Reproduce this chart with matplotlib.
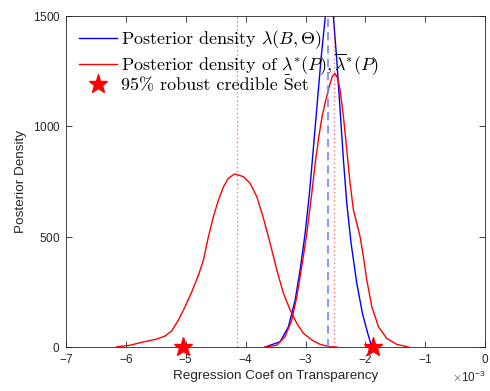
import matplotlib
matplotlib.use('Agg')
import matplotlib.pyplot as plt
import numpy as np

# Posterior density of the lower/upper bounds (left mode, red), x in 1e-3 units
x_red_left = [-6.153, -5.931, -5.709, -5.485, -5.346, -5.234, -5.124, -5.012, -4.900,
              -4.789, -4.706, -4.623, -4.539, -4.456, -4.372, -4.289, -4.193, -4.177,
              -4.038, -3.926, -3.814, -3.703, -3.592, -3.480, -3.369, -3.258, -3.146,
              -3.035, -2.896, -2.757, -2.590, -2.478]
y_red_left = [1, 8, 23, 36, 50, 74, 122, 183, 251,
              326, 394, 500, 591, 666, 726, 765, 783, 784,
              772, 742, 681, 583, 470, 349, 243, 168, 107,
              62, 32, 12, 1, 0]

# Posterior density of the lower/upper bounds (right mode, red)
x_red_right = [-3.676, -3.480, -3.342, -3.230, -3.146, -3.063, -2.979, -2.896, -2.840,
               -2.780, -2.720, -2.670, -2.590, -2.550, -2.506, -2.460, -2.423, -2.367,
               -2.311, -2.256, -2.200, -2.144, -2.089, -2.033, -1.977, -1.893, -1.782,
               -1.643, -1.476, -1.282]
y_red_right = [0, 8, 47, 122, 228, 364, 515, 696, 830,
               950, 1050, 1110, 1195, 1228, 1240, 1215, 1165, 1044,
               893, 742, 621, 561, 500, 409, 304, 183, 92,
               39, 12, 0]

# Posterior density of lambda(B, Theta) (blue)
x_blue = [-3.676, -3.425, -3.286, -3.174, -3.091, -3.007, -2.935, -2.879, -2.800,
          -2.740, -2.670, -2.600, -2.535, -2.478, -2.423, -2.367, -2.311, -2.239,
          -2.144, -2.050, -1.961, -1.894]
y_blue = [0, 24, 92, 213, 349, 515, 696, 870, 1120,
          1310, 1497, 1650, 1497, 1301, 1074, 847, 651, 470,
          289, 153, 62, 1]

# posterior modes and robust credible set bounds
red_vlines = [-4.15, -2.53]
blue_vline = -2.63
credible_set = [-5.04, -1.87]

scale = 1e-3

plt.rcParams['font.family'] = 'Liberation Sans'
plt.rcParams['mathtext.fontset'] = 'cm'
plt.rcParams['axes.unicode_minus'] = False
plt.rcParams['axes.formatter.use_mathtext'] = True

fig = plt.figure(figsize=(4.9, 3.91), dpi=100)
ax = fig.add_axes([0.135, 0.1125, 0.855, 0.8465])

ax.plot(np.array(x_blue) * scale, y_blue, color='blue', lw=1.0,
        label=r'Posterior density $\lambda(B,\Theta)$')
ax.plot(np.array(x_red_left) * scale, y_red_left, color='red', lw=1.0,
        label=r'Posterior density of $\underset{\_}{\lambda}^{*}(P),\overline{\lambda}^{*}(P)$')
ax.plot(np.array(x_red_right) * scale, y_red_right, color='red', lw=1.0)

for v in red_vlines:
    ax.axvline(v * scale, color='red', alpha=0.55, lw=1.0, ls=(0, (1, 2)))
ax.axvline(blue_vline * scale, color='#8080ff', lw=1.2, ls=(0, (5, 3)))

ax.plot(np.array(credible_set) * scale, [0, 0], ls='none', marker='*', ms=14,
        color='red', mec='red', clip_on=False, zorder=5,
        label=r'95% robust credible Set')

ax.set_xlim(-7e-3, 0)
ax.set_ylim(0, 1500)
ax.set_xticks(np.arange(-7, 1) * scale)
ax.set_yticks([0, 500, 1000, 1500])
ax.ticklabel_format(axis='x', style='sci', scilimits=(-3, -3))
ax.tick_params(direction='in', top=True, right=True, length=4, width=0.6,
               labelsize=8.5, pad=4, colors='#262626')
for s in ax.spines.values():
    s.set_linewidth(0.6)
    s.set_color('#262626')
ax.xaxis.get_offset_text().set_fontsize(8.5)

ax.set_xlabel('Regression Coef on Transparency', fontsize=9.7, color='#262626', labelpad=3)
ax.set_ylabel('Posterior Density', fontsize=9.7, color='#262626', labelpad=4)

ax.legend(loc='upper left', bbox_to_anchor=(0.0, 1.0), frameon=False,
          prop={'family': 'cmr10', 'size': 13}, handlelength=2.1,
          handletextpad=0.25, labelspacing=0.0, borderaxespad=0.3)

fig.savefig('out.png', dpi=100)
